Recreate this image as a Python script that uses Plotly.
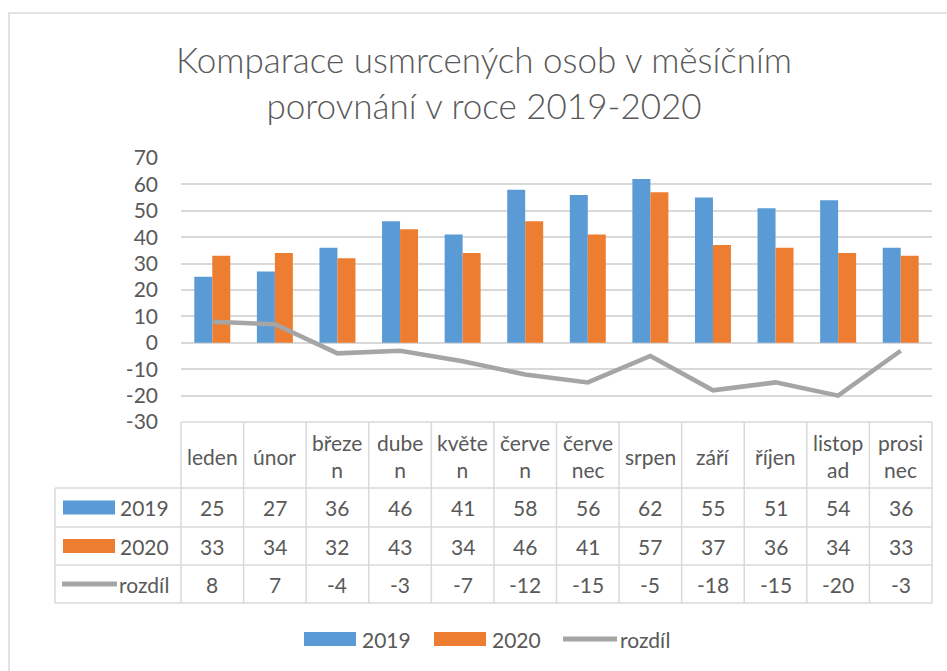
import plotly.graph_objects as go

# ---- data ----
months = ["leden", "únor", "březen", "duben", "květen", "červen",
          "červenec", "srpen", "září", "říjen", "listopad", "prosinec"]
header_labels = ["leden", "únor", "březe<br>n", "dube<br>n", "květe<br>n", "červe<br>n",
                 "červe<br>nec", "srpen", "září", "říjen", "listop<br>ad", "prosi<br>nec"]
v2019 = [25, 27, 36, 46, 41, 58, 56, 62, 55, 51, 54, 36]
v2020 = [33, 34, 32, 43, 34, 46, 41, 57, 37, 36, 34, 33]
rozdil = [8, 7, -4, -3, -7, -12, -15, -5, -18, -15, -20, -3]
series_names = ["2019", "2020", "rozdíl"]
y_ticks = [70, 60, 50, 40, 30, 20, 10, 0, -10, -20, -30]
y_tick_labels = ["70", "60", "50", "40", "30", "20", "10", "0", "-10", "-20", "-30"]
title_text = "Komparace usmrcených osob v měsíčním<br>porovnání v roce 2019-2020"

# ---- style ----
C_BLUE = "#5B9BD5"
C_ORANGE = "#ED7D31"
C_GRAY = "#A5A5A5"
C_TEXT = "#595959"
C_GRID = "#D9D9D9"
FONT = "Lato"
FS = 21

W, H = 947, 671
PL, PR, PT, PB = 181, 932, 158, 422  # plot area in pixels


def px(x):
    return (x - PL) / (PR - PL)


def py(y):
    return (PB - y) / (PB - PT)


fig = go.Figure()
fig.add_trace(go.Bar(x=months, y=v2019, name=series_names[0], marker_color=C_BLUE,
                     marker_line_width=0))
fig.add_trace(go.Bar(x=months, y=v2020, name=series_names[1], marker_color=C_ORANGE,
                     marker_line_width=0))
fig.add_trace(go.Scatter(x=months, y=rozdil, name=series_names[2], mode="lines",
                         line=dict(color=C_GRAY, width=4.5)))

shapes = []
annotations = []

# outer chart border
shapes.append(dict(type="rect", xref="paper", yref="paper",
                   x0=px(9), x1=px(990), y0=py(720), y1=py(13),
                   line=dict(color=C_GRID, width=1.5), fillcolor="rgba(0,0,0,0)", layer="below"))

# title
annotations.append(dict(text=title_text, xref="paper", yref="paper", x=px(484), y=py(82),
                        xanchor="center", yanchor="middle", showarrow=False,
                        font=dict(family=FONT, size=35, color=C_TEXT, weight=300)))

# data table grid
n = len(months)
row_lines = [488, 527, 565, 603]
shapes.append(dict(type="line", xref="paper", yref="paper", x0=px(PL), x1=px(PR),
                   y0=py(PB), y1=py(PB), line=dict(color=C_GRID, width=1.5)))
for yy in row_lines:
    shapes.append(dict(type="line", xref="paper", yref="paper", x0=px(55), x1=px(PR),
                       y0=py(yy), y1=py(yy), line=dict(color=C_GRID, width=1.5)))
for i in range(n + 1):
    shapes.append(dict(type="line", xref="paper", yref="paper", x0=i / n, x1=i / n,
                       y0=py(PB), y1=py(603), line=dict(color=C_GRID, width=1.5)))
shapes.append(dict(type="line", xref="paper", yref="paper", x0=px(55), x1=px(55),
                   y0=py(488), y1=py(603), line=dict(color=C_GRID, width=1.5)))

# header labels
for m, lab in zip(months, header_labels):
    annotations.append(dict(text=lab, xref="x", yref="paper", x=m, y=py(456),
                            xanchor="center", yanchor="middle", showarrow=False,
                            font=dict(family=FONT, size=FS, color=C_TEXT)))

row_centers = [507.5, 546, 584]
for rc, vals in zip(row_centers, [v2019, v2020, rozdil]):
    for m, v in zip(months, vals):
        annotations.append(dict(text=str(v), xref="x", yref="paper", x=m, y=py(rc),
                                xanchor="center", yanchor="middle", showarrow=False,
                                font=dict(family=FONT, size=FS, color=C_TEXT)))

# legend keys inside table
colors = [C_BLUE, C_ORANGE, C_GRAY]
for k, (rc, nm, col) in enumerate(zip(row_centers, series_names, colors)):
    if k < 2:
        shapes.append(dict(type="rect", xref="paper", yref="paper",
                           x0=px(63), x1=px(115), y0=py(rc + 7), y1=py(rc - 7),
                           fillcolor=col, line=dict(width=0)))
    else:
        shapes.append(dict(type="rect", xref="paper", yref="paper",
                           x0=px(62), x1=px(117), y0=py(rc + 2.5), y1=py(rc - 2.5),
                           fillcolor=col, line=dict(width=0)))
    annotations.append(dict(text=nm, xref="paper", yref="paper", x=px(118 if k < 2 else 117),
                            y=py(rc), xanchor="left", yanchor="middle", showarrow=False,
                            font=dict(family=FONT, size=FS, color=C_TEXT)))

# bottom legend
leg_y = 639
leg_items = [(304, 356, 360), (434, 486, 490), (563, 617, 618)]
for k, ((x0, x1, xt), nm, col) in enumerate(zip(leg_items, series_names, colors)):
    if k < 2:
        shapes.append(dict(type="rect", xref="paper", yref="paper",
                           x0=px(x0), x1=px(x1), y0=py(leg_y + 7), y1=py(leg_y - 7),
                           fillcolor=col, line=dict(width=0)))
    else:
        shapes.append(dict(type="rect", xref="paper", yref="paper",
                           x0=px(x0), x1=px(x1), y0=py(leg_y + 2.5), y1=py(leg_y - 2.5),
                           fillcolor=col, line=dict(width=0)))
    annotations.append(dict(text=nm, xref="paper", yref="paper", x=px(xt), y=py(leg_y),
                            xanchor="left", yanchor="middle", showarrow=False,
                            font=dict(family=FONT, size=FS, color=C_TEXT)))

fig.update_layout(
    width=W, height=H,
    margin=dict(l=PL, r=W - PR, t=PT, b=H - PB, pad=0),
    paper_bgcolor="white", plot_bgcolor="white",
    barmode="group", bargap=0.425, bargroupgap=0,
    showlegend=False,
    font=dict(family=FONT, color=C_TEXT),
    xaxis=dict(showticklabels=False, showgrid=False, zeroline=False, showline=False,
               ticks=""),
    yaxis=dict(range=[-30, 70], tickvals=y_ticks, ticktext=y_tick_labels,
               showgrid=True, gridcolor=C_GRID,
               gridwidth=1.5, zeroline=False, showline=False, ticks="",
               ticklabelstandoff=22,
               tickfont=dict(family=FONT, size=FS, color=C_TEXT)),
    shapes=shapes,
    annotations=annotations,
)

fig.write_html("out.html", config={"displayModeBar": False},
               post_script="document.body.style.margin='0';")
